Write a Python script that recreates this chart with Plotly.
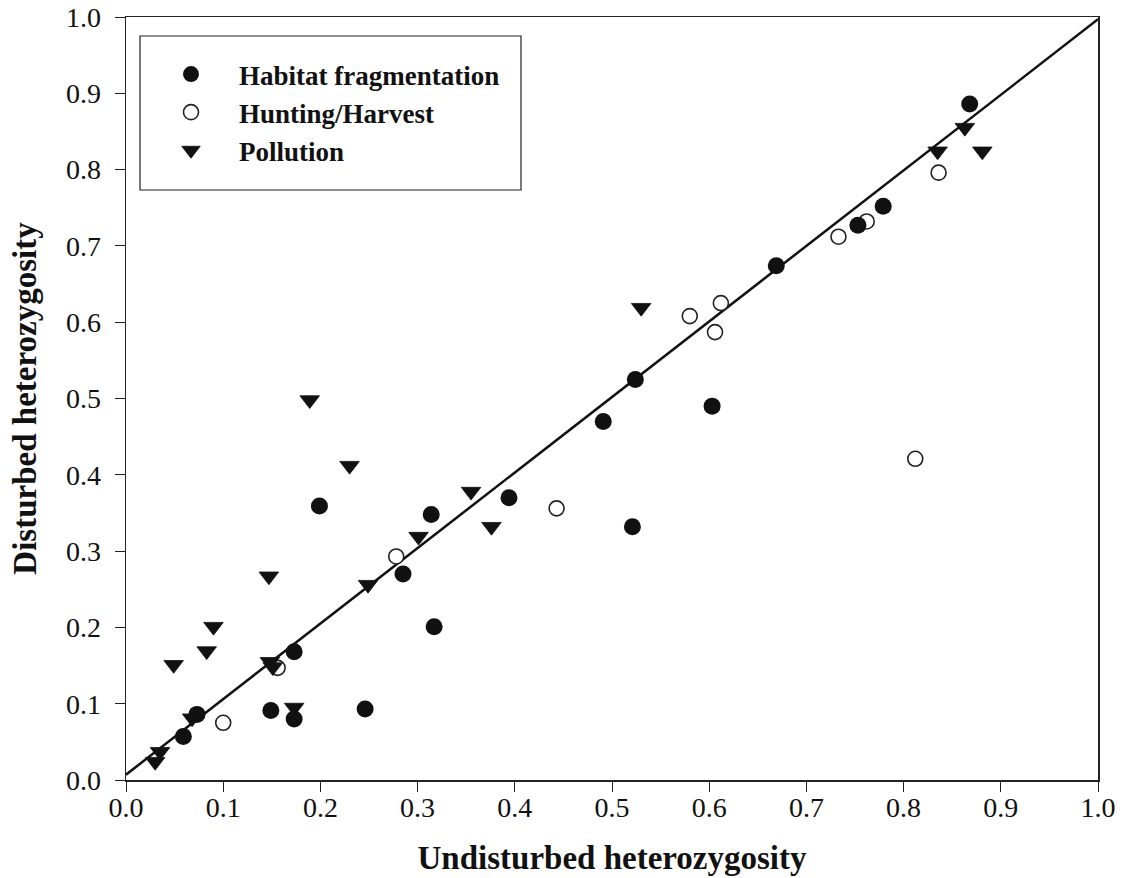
import plotly.graph_objects as go

# ---- data ----
habitat_x = [0.868, 0.779, 0.753, 0.669, 0.524, 0.603, 0.491, 0.521, 0.394, 0.314,
             0.199, 0.285, 0.317, 0.173, 0.149, 0.173, 0.246, 0.073, 0.059]
habitat_y = [0.886, 0.752, 0.727, 0.674, 0.525, 0.490, 0.470, 0.332, 0.370, 0.348,
             0.359, 0.270, 0.201, 0.168, 0.091, 0.080, 0.093, 0.086, 0.057]

hunting_x = [0.836, 0.762, 0.733, 0.612, 0.580, 0.606, 0.812, 0.443, 0.278, 0.100, 0.156]
hunting_y = [0.796, 0.732, 0.712, 0.625, 0.608, 0.587, 0.421, 0.356, 0.293, 0.075, 0.147]

pollution_x = [0.863, 0.835, 0.881, 0.530, 0.189, 0.230, 0.355, 0.376, 0.301, 0.147,
               0.249, 0.090, 0.083, 0.049, 0.148, 0.151, 0.173, 0.068, 0.035, 0.030]
pollution_y = [0.855, 0.824, 0.824, 0.619, 0.498, 0.412, 0.378, 0.332, 0.319, 0.267,
               0.256, 0.201, 0.169, 0.151, 0.155, 0.148, 0.095, 0.081, 0.037, 0.024]

# fitted regression line (endpoints of the drawn line)
fit_x = [0.0, 1.0]
fit_y = [0.007, 0.997]

tick_vals = [0.0, 0.1, 0.2, 0.3, 0.4, 0.5, 0.6, 0.7, 0.8, 0.9, 1.0]
tick_text = ["0.0", "0.1", "0.2", "0.3", "0.4", "0.5", "0.6", "0.7", "0.8", "0.9", "1.0"]

FONT = "Liberation Serif, Times New Roman, serif"

W, H = 1123, 878
PL, PR, PT, PB = 126, 1098, 17, 780          # plot area in page px
PW, PH = PR - PL, PB - PT

fig = go.Figure()

fig.add_trace(go.Scatter(
    x=fit_x, y=fit_y, mode="lines",
    line=dict(color="#111111", width=2.5),
    showlegend=False, hoverinfo="skip"))

fig.add_trace(go.Scatter(
    x=hunting_x, y=hunting_y, mode="markers", name="Hunting/Harvest",
    legendrank=2, legendgroup="b",
    marker=dict(symbol="circle", size=15, color="white",
                line=dict(color="#222222", width=1.6))))

fig.add_trace(go.Scatter(
    x=pollution_x, y=pollution_y, mode="markers", name="Pollution",
    legendrank=3, legendgroup="c",
    marker=dict(symbol="triangle-down", size=17, color="#111111",
                line=dict(color="#111111", width=0.8))))

fig.add_trace(go.Scatter(
    x=habitat_x, y=habitat_y, mode="markers", name="Habitat fragmentation",
    legendrank=1, legendgroup="a",
    marker=dict(symbol="circle", size=17, color="#111111",
                line=dict(color="#111111", width=0))))

axis_common = dict(
    range=[0, 1], tickmode="array", tickvals=tick_vals, ticktext=tick_text,
    showgrid=False, zeroline=False, showline=True, linecolor="#222222",
    linewidth=1.5, mirror=True, ticks="outside", ticklen=10, tickwidth=1,
    tickcolor="#222222", tickfont=dict(family=FONT, size=28, color="#111111"),
    ticklabeloverflow="allow", automargin=False, fixedrange=True)

fig.update_xaxes(**axis_common, ticklabelstandoff=-8,
                 title=dict(text="<b>Undisturbed heterozygosity</b>",
                            font=dict(family=FONT, size=33, color="#111111"),
                            standoff=24))
fig.update_yaxes(**axis_common, ticklabelstandoff=8,
                 title=dict(text="<b>Disturbed heterozygosity</b>",
                            font=dict(family=FONT, size=33, color="#111111"),
                            standoff=19))

def px_x(sx):
    return (sx - PL) / PW

def px_y(sy):
    return 1 - (sy - PT) / PH

# legend box
fig.add_shape(type="rect", xref="paper", yref="paper",
              x0=px_x(140), x1=px_x(521), y0=px_y(190), y1=px_y(36),
              line=dict(color="#222222", width=1.2), fillcolor="rgba(0,0,0,0)")

fig.update_layout(
    width=W, height=H,
    margin=dict(l=PL, r=W - PR, t=PT, b=H - PB, autoexpand=False),
    paper_bgcolor="white", plot_bgcolor="white",
    showlegend=True,
    legend=dict(x=px_x(143), y=px_y(50),
                xanchor="left", yanchor="top",
                bgcolor="rgba(0,0,0,0)", borderwidth=0,
                tracegroupgap=0, itemwidth=86,
                font=dict(family=FONT, size=27, color="#111111", weight="bold")),
)

fig.write_html("out.html",
               config={"displayModeBar": False, "staticPlot": True},
               post_script="document.body.style.margin='0px';"
                           "document.body.style.padding='0px';")
